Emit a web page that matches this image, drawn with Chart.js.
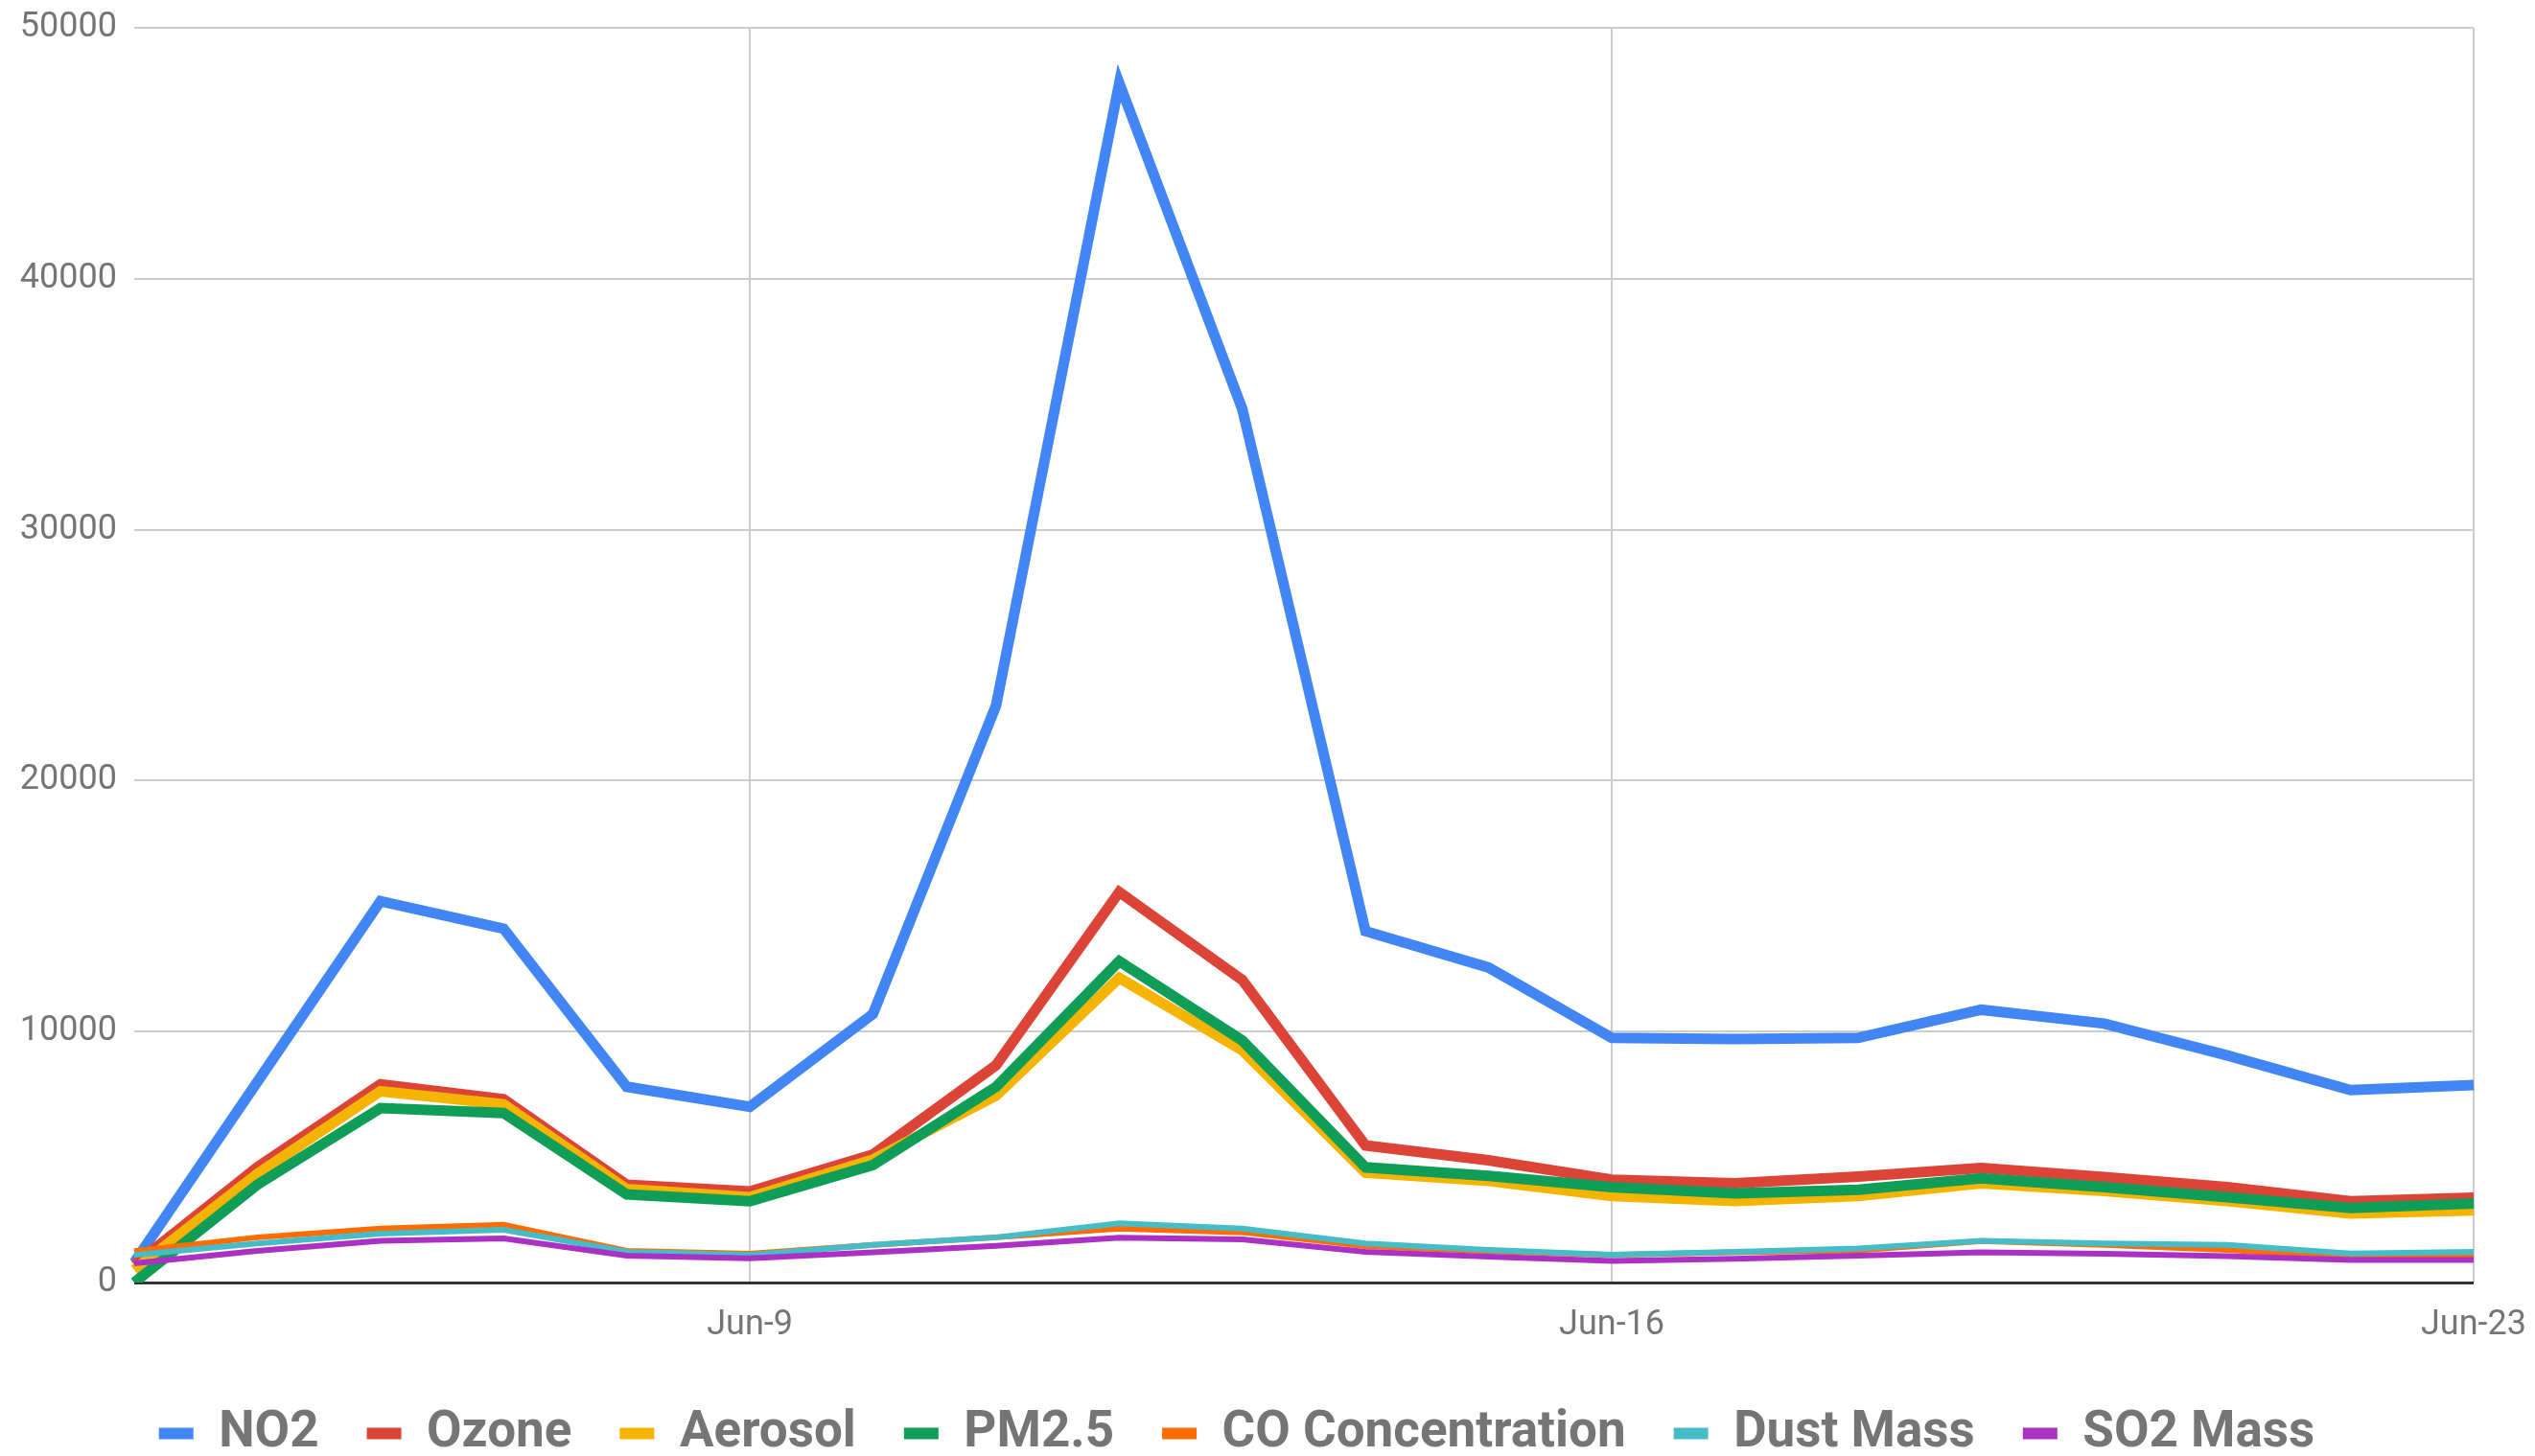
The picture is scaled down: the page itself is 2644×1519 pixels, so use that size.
<!DOCTYPE html>
<html>
<head>
<meta charset="utf-8">
<script src="https://cdn.jsdelivr.net/npm/chart.js@4.4.1/dist/chart.umd.min.js"></script>
<style>
  html, body { margin: 0; padding: 0; background: #fff; }
  #wrap { width: 2644px; height: 1519px; }
</style>
</head>
<body>
<div id="wrap"><canvas id="chart" width="2644" height="1519"></canvas></div>
<script>
// days on the x axis
var days = ["Jun-4", "Jun-5", "Jun-6", "Jun-7", "Jun-8", "Jun-9", "Jun-10", "Jun-11", "Jun-12", "Jun-13",
    "Jun-14", "Jun-15", "Jun-16", "Jun-17", "Jun-18", "Jun-19", "Jun-20", "Jun-21", "Jun-22", "Jun-23"];
var shownDays = ["Jun-9", "Jun-16", "Jun-23"];
var yTicks = [0, 10000, 20000, 30000, 40000, 50000];

// series values
var no2 = [800, 8000, 15200, 14100, 7800, 7000, 10700, 23000, 47800, 34800,
    14000, 12550, 9750, 9700, 9750, 10870, 10320, 9050, 7670, 7870];
var ozone = [700, 4600, 7900, 7300, 3900, 3630, 5100, 8660, 15560, 12050,
    5460, 4870, 4100, 3950, 4220, 4560, 4200, 3800, 3240, 3380];
var aerosol = [500, 4330, 7620, 7100, 3720, 3400, 4900, 7450, 12140, 9250,
    4380, 4050, 3450, 3250, 3450, 3950, 3650, 3250, 2750, 2870];
var pm25 = [0, 3900, 6950, 6750, 3510, 3240, 4680, 7800, 12800, 9640,
    4590, 4250, 3800, 3550, 3700, 4150, 3800, 3400, 2970, 3150];
var coConc = [1250, 1800, 2150, 2300, 1260, 1150, 1500, 1800, 2150, 2000,
    1450, 1250, 1100, 1200, 1280, 1650, 1500, 1300, 1000, 1050];
var dustMass = [1100, 1560, 1950, 2100, 1220, 1100, 1500, 1800, 2360, 2150,
    1560, 1300, 1110, 1220, 1360, 1660, 1560, 1500, 1160, 1220];
var so2Mass = [760, 1260, 1660, 1760, 1070, 960, 1200, 1460, 1790, 1720,
    1220, 1030, 860, 950, 1070, 1200, 1150, 1050, 900, 900];

var seriesNames = ["NO2", "Ozone", "Aerosol", "PM2.5", "CO Concentration", "Dust Mass", "SO2 Mass"];
var seriesData = [no2, ozone, aerosol, pm25, coConc, dustMass, so2Mass];
var seriesColors = ["#4285F4", "#DB4437", "#F4B400", "#0F9D58", "#FF6D00", "#46BDC6", "#AB30C4"];
var seriesWidths = [11, 11, 11, 11, 6, 6, 6];

var datasets = seriesNames.map(function (name, i) {
    return {
        label: name,
        data: seriesData[i],
        borderColor: seriesColors[i],
        backgroundColor: seriesColors[i],
        borderWidth: seriesWidths[i],
        pointRadius: 0,
        tension: 0,
        fill: false,
        // later series drawn on top, like the original
        order: seriesNames.length - i
    };
});

var ctx = document.getElementById('chart').getContext('2d');

var myChart = new Chart(ctx, {
    type: 'line',
    data: {
        labels: days,
        datasets: datasets
    },
    options: {
        responsive: false,
        animation: false,
        layout: {
            padding: { top: 29, right: 64, left: 0, bottom: -13 }
        },
        plugins: {
            tooltip: { enabled: false },
            legend: {
                position: 'bottom',
                labels: {
                    boxWidth: 36,
                    boxHeight: 12,
                    padding: 50,
                    color: '#757575',
                    font: { family: 'Roboto', size: 53, weight: 'bold' },
                    sort: function (a, b) { return a.datasetIndex - b.datasetIndex; },
                    generateLabels: function (chart) {
                        var items = Chart.defaults.plugins.legend.labels.generateLabels(chart);
                        items.forEach(function (it) { it.lineWidth = 0; });
                        return items;
                    }
                }
            }
        },
        scales: {
            x: {
                border: { display: false },
                afterFit: function (scale) { scale.height = 81; },
                grid: {
                    drawTicks: true,
                    tickLength: 23,
                    tickColor: 'rgba(0,0,0,0)',
                    lineWidth: 2,
                    color: function (c) {
                        var lab = days[c.index];
                        return shownDays.indexOf(lab) >= 0 ? '#cccccc' : 'rgba(0,0,0,0)';
                    }
                },
                ticks: {
                    autoSkip: false,
                    maxRotation: 0,
                    padding: 0,
                    color: '#757575',
                    font: { family: 'Roboto', size: 36 },
                    callback: function (val, idx) {
                        var lab = days[idx];
                        return shownDays.indexOf(lab) >= 0 ? lab : '';
                    }
                }
            },
            y: {
                min: yTicks[0],
                max: yTicks[yTicks.length - 1],
                border: { display: false },
                afterFit: function (scale) { scale.width = 140; },
                afterBuildTicks: function (scale) {
                    scale.ticks = yTicks.map(function (v) { return { value: v }; });
                },
                grid: {
                    drawTicks: true,
                    tickLength: 18,
                    tickColor: 'rgba(0,0,0,0)',
                    lineWidth: function (c) { return c.tick && c.tick.value === 0 ? 3 : 2; },
                    color: function (c) { return c.tick && c.tick.value === 0 ? '#333333' : '#cccccc'; }
                },
                ticks: {
                    padding: 0,
                    color: '#757575',
                    font: { family: 'Roboto', size: 36 },
                    callback: function (v) { return String(v); }
                }
            }
        }
    }
});
</script>
</body>
</html>
